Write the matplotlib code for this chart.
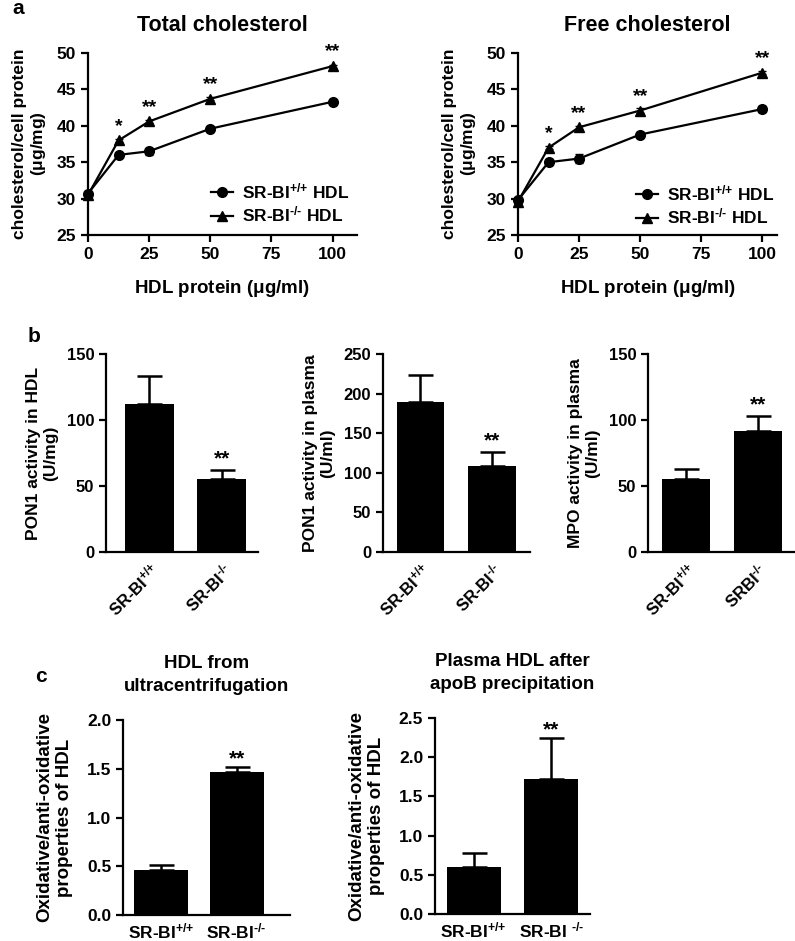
import matplotlib
matplotlib.use("Agg")
import matplotlib.pyplot as plt
from matplotlib.lines import Line2D

plt.rcParams["font.family"] = ["Liberation Sans", "DejaVu Sans"]
plt.rcParams["font.weight"] = "bold"
plt.rcParams["axes.labelweight"] = "bold"
plt.rcParams["mathtext.fontset"] = "custom"
plt.rcParams["mathtext.bf"] = "Liberation Sans:bold"
plt.rcParams["mathtext.rm"] = "Liberation Sans:bold"
plt.rcParams["mathtext.default"] = "bf"

# ---- data ----
hdl_dose = [0, 12.5, 25, 50, 100]
total_wt = [30.7, 36.0, 36.5, 39.6, 43.3]
total_wt_err = [0.3, 0.3, 0.5, 0.3, 0.2]
total_ko = [30.5, 38.0, 40.6, 43.7, 48.2]
total_ko_err = [0.2, 0.2, 0.2, 0.2, 0.2]
free_wt = [29.8, 35.0, 35.5, 38.8, 42.3]
free_wt_err = [0.3, 0.4, 0.6, 0.3, 0.4]
free_ko = [29.6, 37.0, 39.8, 42.1, 47.3]
free_ko_err = [0.2, 0.2, 0.2, 0.4, 0.2]
dose_stars = ["", "*", "**", "**", "**"]

pon1_hdl = [112, 55]
pon1_hdl_err = [21, 7]
pon1_plasma = [190, 109]
pon1_plasma_err = [33, 17]
mpo_plasma = [55, 92]
mpo_plasma_err = [8, 11]

ox_ultra = [0.46, 1.47]
ox_ultra_err = [0.05, 0.05]
ox_apob = [0.60, 1.72]
ox_apob_err = [0.18, 0.52]

lab_wt = r"SR-BI$^{\text{+/+}}$"
lab_ko = r"SR-BI$^{\text{-/-}}$"
lab_ko_mpo = r"SRBI$^{\text{-/-}}$"
lab_ko_apob = r"SR-BI $^{\text{-/-}}$"
leg_wt = r"SR-BI$^{\text{+/+}}$ HDL"
leg_ko = r"SR-BI$^{\text{-/-}}$ HDL"

W, H = 795, 941
fig = plt.figure(figsize=(W / 100, H / 100), dpi=100)


def add_ax(left, top, right, bottom):
    return fig.add_axes([left / W, 1 - bottom / H, (right - left) / W, (bottom - top) / H])


def style(ax, fs):
    for s in ["top", "right"]:
        ax.spines[s].set_visible(False)
    for s in ["left", "bottom"]:
        ax.spines[s].set_linewidth(1.6)
    ax.tick_params(width=1.6, length=5, labelsize=fs)
    for t in ax.get_yticklabels() + ax.get_xticklabels():
        t.set_fontweight("bold")


# ---- panel a ----
def line_panel(ax, wt, wt_err, ko, ko_err, title, leg_x, leg_y):
    ax.errorbar(hdl_dose, wt, yerr=wt_err, color="black", lw=1.6, marker="o",
                ms=7, capsize=3, elinewidth=1.2, clip_on=False, zorder=3)
    ax.errorbar(hdl_dose, ko, yerr=ko_err, color="black", lw=1.6, marker="^",
                ms=7.5, capsize=3, elinewidth=1.2, clip_on=False, zorder=3)
    for x, y, s in zip(hdl_dose, ko, dose_stars):
        if s:
            ax.annotate(s, (x, y), xytext=(0, 4), textcoords="offset points",
                        ha="center", va="bottom", fontsize=14, fontweight="bold")
    ax.set_ylim(25, 50)
    ax.set_yticks([25, 30, 35, 40, 45, 50])
    ax.set_xticks([0, 25, 50, 75, 100])
    ax.set_xlabel(r"HDL protein ($\mathbf{\mu}$g/ml)", fontsize=13.5, labelpad=12)
    ax.set_ylabel("cholesterol/cell protein\n" + r"($\mathbf{\mu}$g/mg)", fontsize=12.5, labelpad=6)
    ax.set_title(title, fontsize=15.5, fontweight="bold", pad=16)
    style(ax, 12.5)
    handles = [Line2D([], [], color="black", lw=1.6, marker="o", ms=7),
               Line2D([], [], color="black", lw=1.6, marker="^", ms=7.5)]
    ax.legend(handles, [leg_wt, leg_ko], loc="lower right",
              bbox_to_anchor=(leg_x, leg_y), frameon=False,
              handlelength=1.3, handletextpad=0.5, labelspacing=0.2,
              prop={"weight": "bold", "size": 12.5})


ax = add_ax(88, 53, 357, 235)
line_panel(ax, total_wt, total_wt_err, total_ko, total_ko_err, "Total cholesterol", 1.03, -0.03)
ax.set_xlim(0, 110)
ax = add_ax(518, 53, 777, 235)
line_panel(ax, free_wt, free_wt_err, free_ko, free_ko_err, "Free cholesterol", 1.05, -0.04)
ax.set_xlim(0, 106)


# ---- panel b ----
def bar_panel(ax, vals, errs, labels, ymax, step, ylabel, width, xlim):
    pos = [0, 1]
    ax.bar(pos, vals, width=width, color="black", zorder=2)
    ax.errorbar(pos, vals, yerr=[[0, 0], errs], fmt="none", ecolor="black",
                elinewidth=1.8, capsize=9, capthick=1.8, zorder=1)
    ax.set_ylim(0, ymax)
    ax.set_yticks(list(range(0, ymax + 1, step)))
    ax.set_xlim(*xlim)
    ax.set_xticks(pos)
    ax.set_xticklabels(labels, rotation=45, ha="right", rotation_mode="anchor")
    ax.set_ylabel(ylabel, fontsize=12.5, labelpad=6)
    style(ax, 12)
    ax.tick_params(axis="x", length=0, pad=6)
    ax.annotate("**", (1, vals[1] + errs[1]), xytext=(0, 4),
                textcoords="offset points", ha="center", fontsize=15, fontweight="bold")


ax = add_ax(106, 354, 258, 552)
bar_panel(ax, pon1_hdl, pon1_hdl_err, [lab_wt, lab_ko], 150, 50,
          "PON1 activity in HDL\n(U/mg)", 0.68, (-0.6, 1.5))
ax = add_ax(383, 354, 530, 552)
bar_panel(ax, pon1_plasma, pon1_plasma_err, [lab_wt, lab_ko], 250, 50,
          "PON1 activity in plasma\n(U/ml)", 0.66, (-0.52, 1.53))
ax = add_ax(648, 354, 795, 552)
bar_panel(ax, mpo_plasma, mpo_plasma_err, [lab_wt, lab_ko_mpo], 150, 50,
          "MPO activity in plasma\n(U/ml)", 0.67, (-0.53, 1.52))


# ---- panel c ----
def ox_panel(ax, vals, errs, labels, ymax, title, width, xlim):
    pos = [0, 1]
    ax.bar(pos, vals, width=width, color="black", zorder=2)
    ax.errorbar(pos, vals, yerr=[[0, 0], errs], fmt="none", ecolor="black",
                elinewidth=1.8, capsize=9, capthick=1.8, zorder=1)
    ax.set_ylim(0, ymax)
    ticks = [i * 0.5 for i in range(int(ymax / 0.5) + 1)]
    ax.set_yticks(ticks)
    ax.set_yticklabels([f"{t:.1f}" for t in ticks])
    ax.set_xlim(*xlim)
    ax.set_xticks(pos)
    ax.set_xticklabels(labels)
    ax.set_ylabel("Oxidative/anti-oxidative\nproperties of HDL", fontsize=13.5, labelpad=10)
    ax.set_title(title, fontsize=13.5, fontweight="bold", pad=21, linespacing=1.45)
    style(ax, 12.5)
    ax.tick_params(axis="x", length=0, pad=5)
    ax.annotate("**", (1, vals[1] + errs[1]), xytext=(0, 2),
                textcoords="offset points", ha="center", fontsize=15, fontweight="bold")


ax = add_ax(123, 720, 290, 915)
ox_panel(ax, ox_ultra, ox_ultra_err, [lab_wt, lab_ko], 2.0,
         "HDL from\nultracentrifugation", 0.72, (-0.51, 1.71))
ax = add_ax(435, 718, 590, 914)
ox_panel(ax, ox_apob, ox_apob_err, [lab_wt, lab_ko_apob], 2.5,
         "Plasma HDL after\napoB precipitation", 0.70, (-0.5, 1.5))

# panel letters
fig.text(12 / W, 1 - 8 / H, "a", fontsize=15, fontweight="bold", va="center")
fig.text(28 / W, 1 - 337 / H, "b", fontsize=15, fontweight="bold", va="center")
fig.text(35 / W, 1 - 676 / H, "c", fontsize=15, fontweight="bold", va="center")

fig.savefig("out.png", dpi=100)
